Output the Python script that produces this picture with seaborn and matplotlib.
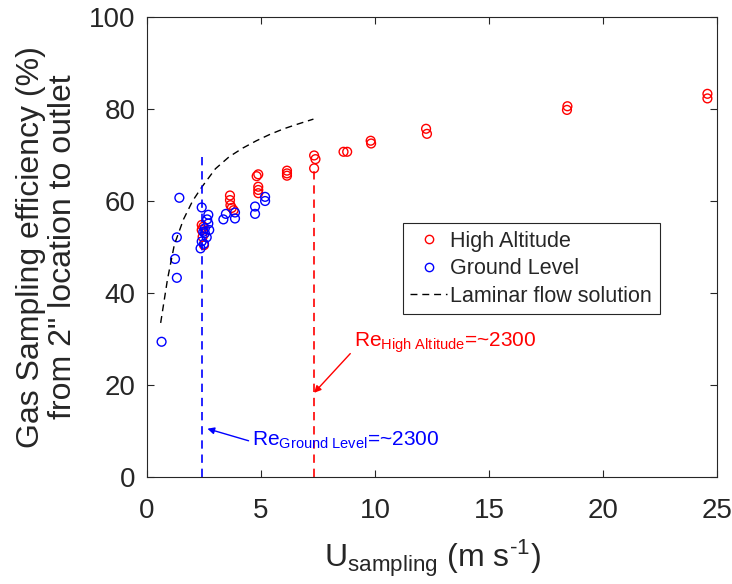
import numpy as np
import pandas as pd
import matplotlib
matplotlib.use('Agg')
import matplotlib.pyplot as plt
import seaborn as sns
from matplotlib.lines import Line2D

# measured sampling efficiency, high altitude runs
high_x = [2.40, 2.47, 2.40, 2.44, 2.50,
          3.64, 3.64, 3.66, 3.72, 3.80,
          4.81, 4.88, 4.88, 4.88, 4.88,
          6.14, 6.14, 6.14,
          7.33, 7.39, 7.33,
          8.62, 8.78,
          9.81, 9.83,
          12.24, 12.28,
          18.44, 18.42,
          24.58, 24.58]
high_y = [54.8, 54.4, 53.7, 52.2, 50.4,
          61.2, 60.2, 59.1, 58.5, 58.0,
          65.4, 65.8, 63.1, 62.4, 61.7,
          66.6, 66.0, 65.5,
          69.9, 69.1, 67.1,
          70.7, 70.7,
          73.1, 72.5,
          75.7, 74.6,
          80.6, 79.8,
          83.3, 82.3]

# measured sampling efficiency, ground level runs
ground_x = [0.64, 1.23, 1.31, 1.31, 1.42,
            2.40, 2.69, 2.64, 2.69, 2.73, 2.54, 2.47, 2.62, 2.40, 2.50, 2.35, 2.54,
            3.35, 3.46, 3.86, 3.86, 4.74, 4.74, 5.18, 5.18]
ground_y = [29.4, 47.4, 43.3, 52.1, 60.7,
            58.6, 57.0, 56.0, 55.1, 53.7, 54.1, 53.3, 52.1, 51.2, 50.7, 49.7, 53.0,
            56.0, 57.2, 56.2, 57.5, 57.2, 58.8, 60.0, 60.9]

# laminar flow solution
lam_x = [0.6, 0.9, 1.2, 1.6, 2.0, 2.4, 3.0, 3.6, 4.2, 4.8, 5.4, 6.0, 6.6, 7.3]
lam_y = [33.5, 43.0, 50.5, 56.0, 60.0, 63.0, 67.0, 69.6, 71.5, 73.1, 74.5, 75.7, 76.7, 77.8]

# Re = 2300 positions
re_ground = 2.42
re_high = 7.33

sns.set_style('ticks')
plt.rcParams['font.family'] = ['Liberation Sans', 'DejaVu Sans']
plt.rcParams['mathtext.fontset'] = 'custom'
plt.rcParams['mathtext.rm'] = 'Liberation Sans'
plt.rcParams['mathtext.it'] = 'Liberation Sans'

text_col = '#262626'

df_high = pd.DataFrame({'u': high_x, 'eff': high_y})
df_ground = pd.DataFrame({'u': ground_x, 'eff': ground_y})
df_lam = pd.DataFrame({'u': lam_x, 'eff': lam_y})

fig = plt.figure(figsize=(7.32, 5.84), dpi=100)
ax = fig.add_axes([0.2008, 0.1832, 0.7787, 0.7877])

sns.lineplot(data=df_lam, x='u', y='eff', ax=ax, color='black', lw=1.0,
             linestyle=(0, (5, 3.5)), sort=False)

ax.plot([re_ground, re_ground], [0, 70], color='#0000ff', lw=1.2, linestyle=(0, (5, 3.5)))
ax.plot([re_high, re_high], [0, 66.5], color='#ff0000', lw=1.2, linestyle=(0, (5, 3.5)))

n_before = len(ax.collections)
sns.scatterplot(data=df_high, x='u', y='eff', ax=ax, color='#ff0000', s=40, linewidth=1.0)
sns.scatterplot(data=df_ground, x='u', y='eff', ax=ax, color='#0000ff', s=40, linewidth=1.0)
for coll, col in zip(ax.collections[n_before:], ['#ff0000', '#0000ff']):
    coll.set_facecolor('none')
    coll.set_edgecolor(col)

ax.set_xlim(0, 25)
ax.set_ylim(0, 100)
ax.set_xticks([0, 5, 10, 15, 20, 25])
ax.set_yticks([0, 20, 40, 60, 80, 100])
ax.tick_params(direction='in', top=True, right=True, labelsize=20, colors=text_col,
               length=5, width=0.8)
ax.tick_params(axis='x', pad=15)
ax.tick_params(axis='y', pad=8)
for sp in ax.spines.values():
    sp.set_visible(True)
    sp.set_color(text_col)
    sp.set_linewidth(0.8)

ax.set_xlabel(r'U$_{\mathrm{sampling}}$ (m s$^{\text{-1}}$)', fontsize=23, color=text_col,
              labelpad=10)
ax.set_ylabel('Gas Sampling efficiency (%)\nfrom 2" location to outlet', fontsize=23,
              color=text_col, linespacing=1.1, labelpad=8)

ax.annotate(r'Re$_{\mathrm{High\ Altitude}}$=~2300', xy=(re_high, 18.3), xytext=(9.06, 29.2),
            color='#ff0000', fontsize=15, va='center', ha='left',
            arrowprops=dict(arrowstyle='-|>', color='#ff0000', lw=1.0, mutation_scale=10,
                            shrinkA=0, shrinkB=0, relpos=(0, 0.2)))
ax.annotate(r'Re$_{\mathrm{Ground\ Level}}$=~2300', xy=(2.65, 10.5), xytext=(4.6, 7.9),
            color='#0000ff', fontsize=15, va='center', ha='left',
            arrowprops=dict(arrowstyle='-|>', color='#0000ff', lw=1.0, mutation_scale=10,
                            shrinkA=0, shrinkB=0, relpos=(0, 0.45)))

handles = [
    Line2D([], [], marker='o', ls='none', mfc='none', mec='#ff0000', ms=6, mew=1.0),
    Line2D([], [], marker='o', ls='none', mfc='none', mec='#0000ff', ms=6, mew=1.0),
    Line2D([], [], color='black', lw=1.0, linestyle=(0, (5, 3.5))),
]
leg = ax.legend(handles, ['High Altitude', 'Ground Level', 'Laminar flow solution'],
                loc='upper left', bbox_to_anchor=(0.449, 0.552), fontsize=15.5,
                frameon=True, fancybox=False, edgecolor=text_col, framealpha=1,
                handlelength=1.7, handletextpad=0.15, borderpad=0.35, labelspacing=0.3,
                borderaxespad=0)
leg.get_frame().set_linewidth(0.8)

fig.savefig('out.png', dpi=100)
